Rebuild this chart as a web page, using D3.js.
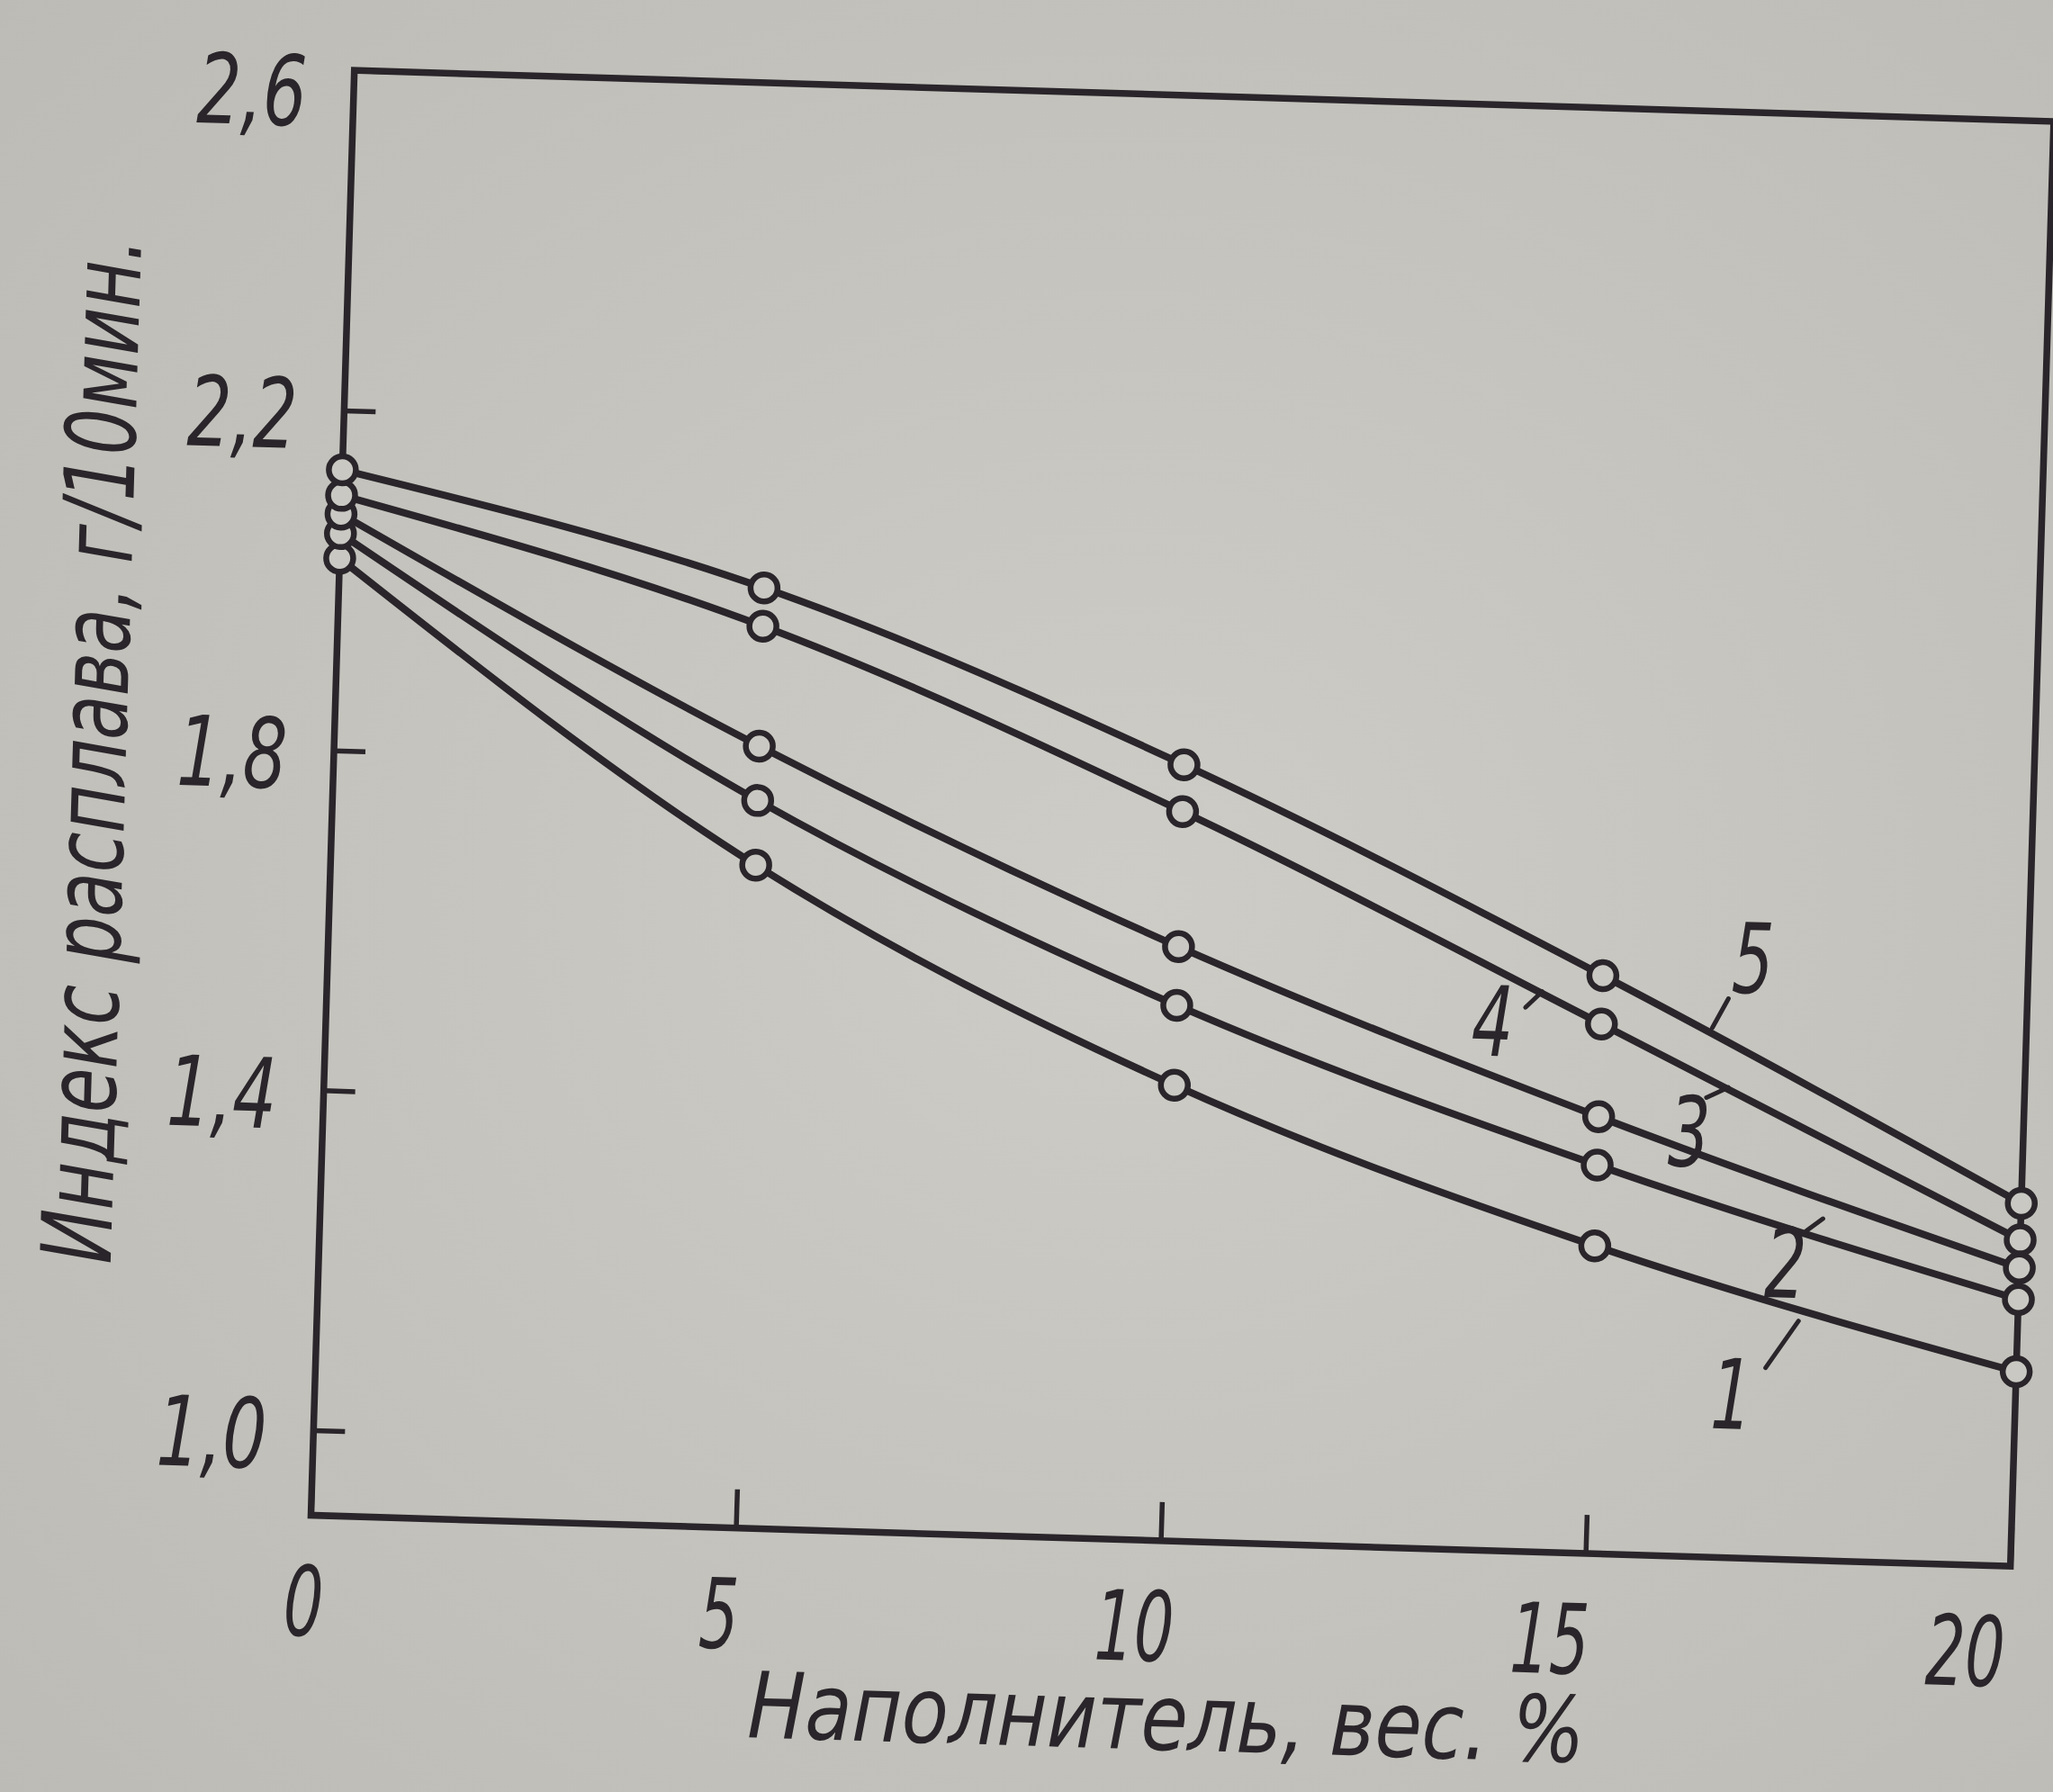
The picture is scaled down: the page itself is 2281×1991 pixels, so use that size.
<!DOCTYPE html>
<html><head><meta charset="utf-8">
<script src="https://cdn.jsdelivr.net/npm/d3@7"></script>
<style>html,body{margin:0;padding:0;background:#c4c3bd;overflow:hidden} svg{display:block}</style>
</head><body>
<script>
// ---- data ----
const xValues = [0, 5, 10, 15, 20];
const series1 = [2.026, 1.680, 1.436, 1.262, 1.129];
const series2 = [2.055, 1.756, 1.530, 1.357, 1.214];
const series3 = [2.078, 1.820, 1.599, 1.414, 1.251];
const series4 = [2.100, 1.961, 1.758, 1.523, 1.284];
const series5 = [2.130, 2.006, 1.813, 1.580, 1.327];
const seriesNames = ["1", "2", "3", "4", "5"];
const xTicks = [0, 5, 10, 15, 20];
const xTickLabels = ["0", "5", "10", "15", "20"];
const yTicks = [1.0, 1.4, 1.8, 2.2, 2.6];
const yTickLabels = ["1,0", "1,4", "1,8", "2,2", "2,6"];
const xTitle = "Наполнитель, вес. %";
const yTitle = "Индекс расплава, г/10мин.";
// curve-number label anchors, in data units
const labelX = [16.66, 17.25, 16.07, 13.72, 16.76];
const labelY = [1.093, 1.249, 1.400, 1.523, 1.606];

// ---- layout / style ----
const W = 2281, H = 1991;
const pw = 1889, ph = 1606;
const ink = "#29252a";
const paper = "#c9c8c2";
const font = "'Liberation Sans Narrow','DejaVu Sans Condensed','DejaVu Sans',sans-serif";
const labelWidth = (s) => s.split("").reduce((a, c) => a + (c === "," ? 34 : 44), 0);
// leader strokes for curve labels (pixel offsets from label centre)
const leaders = [[37,-30,72,-83],[22,-36,40,-50],[18,-38,42,-50],[36,-16,54,-34],[-43,79,-26,46]];

const svg = d3.select("body").append("svg").attr("width", W).attr("height", H);
const defs = svg.append("defs");
const grad = defs.append("radialGradient").attr("id", "paper").attr("cx", "55%").attr("cy", "50%").attr("r", "75%");
grad.append("stop").attr("offset", "0%").attr("stop-color", "#cdccc6");
grad.append("stop").attr("offset", "100%").attr("stop-color", "#bcbbb5");
svg.append("rect").attr("width", W).attr("height", H).attr("fill", "url(#paper)");

const g = svg.append("g")
  .attr("transform", `translate(345.5,1683.5) rotate(1.72) translate(0,${-ph})`);

const x = d3.scaleLinear().domain([0, 20]).range([0, pw]);
const y = d3.scaleLinear().domain([0.9, 2.6]).range([ph, 0]);

const styleText = (sel, size) => sel.attr("fill", ink).style("font-family", font)
  .style("font-style", "italic").style("font-size", size + "px");

// frame
g.append("rect").attr("x", 0).attr("y", 0).attr("width", pw).attr("height", ph)
  .attr("fill", "none").attr("stroke", ink).attr("stroke-width", 7.5);

// x axis
const xa = g.append("g").attr("transform", `translate(0,${ph})`)
  .call(d3.axisBottom(x).tickValues(xTicks).tickSizeInner(-43).tickSizeOuter(0)
    .tickFormat((d, i) => xTickLabels[i]));
xa.select(".domain").remove();
xa.selectAll(".tick line").attr("stroke", ink).attr("stroke-width", 5.5);
xa.selectAll(".tick text").attr("y", 95).attr("dy", "0.36em").attr("x", (d) => -6 - 2.1 * d)
  .attr("text-anchor", "middle")
  .attr("textLength", (d, i) => labelWidth(xTickLabels[i])).attr("lengthAdjust", "spacingAndGlyphs")
  .call(styleText, 108);

// y axis
const ya = g.append("g")
  .call(d3.axisLeft(y).tickValues(yTicks).tickSizeInner(-35).tickSizeOuter(0)
    .tickFormat((d, i) => yTickLabels[i]));
ya.select(".domain").remove();
ya.selectAll(".tick line").attr("stroke", ink).attr("stroke-width", 5.5);
ya.selectAll(".tick text").attr("x", -52).attr("dy", (d) => d === 2.6 ? "0.58em" : "0.4em")
  .attr("text-anchor", "end")
  .attr("textLength", (d, i) => labelWidth(yTickLabels[i])).attr("lengthAdjust", "spacingAndGlyphs")
  .call(styleText, 108);

// titles
g.append("text").attr("x", x(10.13)).attr("y", ph + 232)
  .attr("text-anchor", "middle")
  .attr("textLength", 930).attr("lengthAdjust", "spacingAndGlyphs")
  .call(styleText, 102)
  .text(xTitle);
g.append("text").attr("transform", `translate(-231,764) rotate(-90)`)
  .attr("text-anchor", "middle")
  .attr("textLength", 1140).attr("lengthAdjust", "spacingAndGlyphs")
  .call(styleText, 108)
  .text(yTitle);

// series
const allSeries = [series1, series2, series3, series4, series5];
const line = d3.line().x((d) => x(d[0])).y((d) => y(d[1])).curve(d3.curveMonotoneX);
allSeries.forEach((s) => {
  const pts = xValues.map((xv, i) => [xv, s[i]]);
  g.append("path").attr("d", line(pts)).attr("fill", "none")
    .attr("stroke", ink).attr("stroke-width", 8).attr("stroke-linecap", "round");
});
allSeries.forEach((s) => {
  g.selectAll(null).data(xValues.map((xv, i) => [xv, s[i]])).enter().append("circle")
    .attr("cx", (d) => x(d[0])).attr("cy", (d) => y(d[1])).attr("r", 15)
    .attr("fill", paper).attr("stroke", ink).attr("stroke-width", 6.5);
});

// curve labels
seriesNames.forEach((name, i) => {
  const cx = x(labelX[i]), cy = y(labelY[i]);
  g.append("text").attr("x", cx).attr("y", cy).attr("dy", "0.36em").attr("text-anchor", "middle")
    .attr("textLength", 46).attr("lengthAdjust", "spacingAndGlyphs")
    .call(styleText, 108)
    .text(name);
  const l = leaders[i];
  g.append("line").attr("x1", cx + l[0]).attr("y1", cy + l[1]).attr("x2", cx + l[2]).attr("y2", cy + l[3])
    .attr("stroke", ink).attr("stroke-width", 5).attr("stroke-linecap", "round");
});
</script>
</body></html>
